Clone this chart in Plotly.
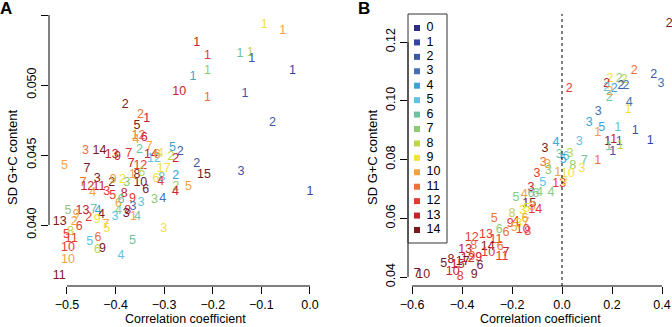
import plotly.graph_objects as go

# ---------------- data ----------------
group_colors = ["#2d2f7e", "#3446a0", "#3a58a8", "#4470b4", "#3ba3d6", "#5ec4e2",
                "#6cc3a0", "#8ccb73", "#bcd64a", "#f3e23a", "#f4a23f", "#ee7136",
                "#e53a32", "#c6212d", "#7b1a1d"]
legend_labels = [str(i) for i in range(15)]

# Panel A
a_x = [-0.094, -0.056, -0.233, -0.211, -0.144, -0.123, -0.120, -0.211, -0.241, -0.036,
       -0.269, -0.211, -0.134, -0.077, 0.000, -0.142, -0.218, -0.233, -0.380, -0.349,
       -0.336, -0.356, -0.353, -0.358, -0.341, -0.331, -0.351, -0.462, -0.433, -0.408,
       -0.396, -0.373, -0.327, -0.308, -0.283, -0.267, -0.286, -0.276, -0.321, -0.315,
       -0.505, -0.459, -0.368, -0.349, -0.356, -0.365, -0.346, -0.301, -0.317, -0.305,
       -0.307, -0.276, -0.276, -0.277, -0.250, -0.438, -0.467, -0.458, -0.434, -0.408,
       -0.405, -0.447, -0.418, -0.406, -0.386, -0.377, -0.349, -0.338, -0.382, -0.365,
       -0.394, -0.389, -0.364, -0.348, -0.394, -0.401, -0.375, -0.378, -0.363, -0.355,
       -0.320, -0.303, -0.301, -0.498, -0.468, -0.445, -0.436, -0.481, -0.455, -0.429,
       -0.438, -0.515, -0.475, -0.485, -0.420, -0.418, -0.501, -0.493, -0.491, -0.498,
       -0.498, -0.516, -0.453, -0.436, -0.437, -0.427, -0.389, -0.365]
a_y = [0.0543, 0.0539, 0.0530, 0.0521, 0.0522, 0.0523, 0.0519, 0.0510, 0.0506, 0.0510,
       0.0495, 0.0491, 0.0494, 0.0473, 0.0424, 0.0438, 0.0436, 0.0444, 0.0486, 0.0479,
       0.0476, 0.0471, 0.0464, 0.0461, 0.0462, 0.0456, 0.0454, 0.0453, 0.0453, 0.0450,
       0.0449, 0.0451, 0.0450, 0.0451, 0.0455, 0.0452, 0.0449, 0.0447, 0.0447, 0.0450,
       0.0442, 0.0440, 0.0444, 0.0442, 0.0436, 0.0436, 0.0437, 0.0440, 0.0433, 0.0434,
       0.0431, 0.0435, 0.0427, 0.0424, 0.0427, 0.0433, 0.0430, 0.0427, 0.0427, 0.0430,
       0.0432, 0.0423, 0.0424, 0.0421, 0.0432, 0.0430, 0.0430, 0.0425, 0.0422, 0.0419,
       0.0415, 0.0418, 0.0413, 0.0416, 0.0410, 0.0406, 0.0410, 0.0408, 0.0406, 0.0406,
       0.0418, 0.0419, 0.0397, 0.0410, 0.0410, 0.0411, 0.0410, 0.0407, 0.0405, 0.0407,
       0.0404, 0.0402, 0.0399, 0.0402, 0.0400, 0.0397, 0.0393, 0.0395, 0.0390, 0.0384,
       0.0375, 0.0364, 0.0388, 0.0391, 0.0382, 0.0383, 0.0378, 0.0389]
a_lab = ["1", "1", "1", "1", "1", "1", "1", "1", "1", "1",
         "10", "1", "1", "2", "1", "3", "15", "2", "2", "2",
         "1", "5", "12", "4", "6", "7", "2", "3", "14", "13",
         "9", "7", "14", "4", "5", "2", "2", "2", "12", "6",
         "5", "7", "7", "12", "8", "1", "6", "17", "6", "8",
         "4", "2", "2", "4", "5", "3", "7", "12", "11", "2",
         "9", "4", "3", "5", "2", "3", "10", "6", "8", "9",
         "6", "6", "3", "3", "4", "3", "8", "3", "1", "4",
         "3", "4", "3", "5", "13", "7", "4", "9", "2", "4",
         "9", "13", "6", "2", "7", "5", "5", "8", "11", "10",
         "10", "11", "5", "6", "6", "9", "4", "5"]
a_grp = [9, 10, 13, 12, 6, 8, 2, 7, 4, 1,
         13, 11, 2, 2, 1, 2, 14, 2, 14, 11,
         13, 14, 11, 10, 13, 10, 6, 11, 14, 13,
         13, 12, 13, 9, 4, 2, 8, 13, 5, 10,
         10, 14, 13, 12, 14, 10, 8, 9, 9, 6,
         12, 4, 7, 13, 10, 14, 11, 13, 13, 14,
         10, 10, 12, 12, 9, 7, 14, 14, 13, 12,
         10, 6, 3, 5, 7, 5, 13, 14, 10, 6,
         7, 3, 9, 7, 13, 6, 4, 10, 12, 14,
         9, 14, 12, 10, 10, 9, 12, 8, 12, 12,
         10, 14, 5, 11, 8, 14, 5, 6]

# Panel B
b_x = [0.429, 0.289, 0.367, 0.396, 0.029, 0.192, 0.179, 0.229, 0.249, 0.236,
       0.256, 0.209, 0.179, 0.192, 0.189, 0.269, 0.265, 0.145, 0.109, 0.159,
       0.143, 0.223, 0.293, 0.353, 0.183, 0.207, 0.229, 0.187, 0.203, 0.233,
       0.069, 0.143, 0.089, 0.043, 0.080, 0.032, -0.011, 0.016, 0.005, -0.024,
       -0.068, -0.075, -0.057, -0.055, -0.017, 0.023, -0.100, -0.077, -0.011, 0.008,
       -0.124, -0.184, -0.151, -0.124, -0.104, -0.090, -0.044, -0.131, -0.107, -0.119,
       -0.200, -0.157, -0.141, -0.271, -0.148, -0.144, -0.207, -0.184, -0.191, -0.173,
       -0.157, -0.137, -0.251, -0.224, -0.361, -0.304, -0.264, -0.297, -0.247, -0.387,
       -0.353, -0.295, -0.224, -0.240, -0.360, -0.377, -0.333, -0.473, -0.444, -0.397,
       -0.417, -0.437, -0.407, -0.328, -0.351, -0.580, -0.555]
b_y = [0.1261, 0.1102, 0.1088, 0.1057, 0.1039, 0.1073, 0.1059, 0.1074, 0.1070, 0.1050,
       0.1050, 0.1042, 0.1045, 0.1031, 0.1011, 0.0993, 0.0968, 0.0963, 0.0925, 0.0906,
       0.0891, 0.0908, 0.0897, 0.0862, 0.0860, 0.0868, 0.0860, 0.0843, 0.0826, 0.0847,
       0.0860, 0.0794, 0.0795, 0.0778, 0.0769, 0.0818, 0.0815, 0.0809, 0.0800, 0.0855,
       0.0835, 0.0789, 0.0781, 0.0760, 0.0755, 0.0752, 0.0750, 0.0720, 0.0718, 0.0725,
       0.0703, 0.0669, 0.0678, 0.0682, 0.0684, 0.0686, 0.0686, 0.0648, 0.0627, 0.0640,
       0.0616, 0.0625, 0.0633, 0.0597, 0.0599, 0.0585, 0.0580, 0.0588, 0.0566, 0.0581,
       0.0561, 0.0553, 0.0561, 0.0551, 0.0533, 0.0542, 0.0527, 0.0502, 0.0502, 0.0493,
       0.0505, 0.0483, 0.0483, 0.0470, 0.0468, 0.0463, 0.0465, 0.0445, 0.0459, 0.0451,
       0.0442, 0.0417, 0.0400, 0.0438, 0.0408, 0.0409, 0.0406]
b_lab = ["2", "2", "2", "3", "2", "2", "2", "2", "2", "2",
         "2", "2", "2", "2", "2", "4", "1", "3", "3", "5",
         "1", "1", "1", "1", "1", "1", "1", "1", "1", "1",
         "3", "1", "7", "8", "3", "3", "3", "6", "5", "4",
         "3", "3", "3", "3", "1", "10", "3", "5", "13", "9",
         "3", "5", "4", "6", "6", "4", "4", "15", "14", "3",
         "8", "3", "5", "5", "6", "7", "9", "4", "5", "3",
         "10", "8", "6", "6", "12", "13", "11", "14", "6", "13",
         "8", "10", "7", "11", "9", "12", "9", "5", "8", "17",
         "15", "10", "8", "6", "9", "7", "10"]
b_grp = [14, 11, 2, 3, 12, 9, 13, 7, 8, 2,
         3, 4, 5, 10, 6, 3, 9, 3, 4, 4,
         10, 5, 2, 1, 14, 13, 2, 6, 2, 8,
         5, 11, 6, 7, 9, 8, 6, 5, 4, 4,
         14, 11, 10, 7, 10, 9, 12, 5, 12, 9,
         13, 7, 10, 6, 7, 7, 7, 14, 12, 10,
         8, 9, 9, 11, 10, 10, 12, 12, 10, 9,
         12, 12, 7, 11, 12, 12, 12, 14, 11, 13,
         11, 12, 13, 12, 11, 13, 13, 14, 14, 14,
         13, 13, 12, 14, 14, 14, 14]

a_xticks = [-0.5, -0.4, -0.3, -0.2, -0.1, 0.0]
a_xtext = ["\u22120.5", "\u22120.4", "\u22120.3", "\u22120.2", "\u22120.1", "0.0"]
a_yticks = [0.040, 0.045, 0.050, 0.055]
a_ytext = ["0.040", "0.045", "0.050", "0.055"]
b_xticks = [-0.6, -0.4, -0.2, 0.0, 0.2, 0.4]
b_xtext = ["\u22120.6", "\u22120.4", "\u22120.2", "0.0", "0.2", "0.4"]
b_yticks = [0.04, 0.06, 0.08, 0.10, 0.12]
b_ytext = ["0.04", "0.06", "0.08", "0.10", "0.12"]

FONT = "Liberation Sans, Arial, Helvetica, sans-serif"
W, H = 672, 327

def px_x(p):
    return p / W

def px_y(p):
    return (H - p) / H

fig = go.Figure()

fig.add_trace(go.Scatter(x=a_x, y=a_y, mode="text", text=a_lab,
                         textfont=dict(family=FONT, size=12.5, color=[group_colors[g] for g in a_grp]),
                         xaxis="x", yaxis="y", showlegend=False, cliponaxis=False, hoverinfo="skip"))
fig.add_trace(go.Scatter(x=b_x, y=b_y, mode="text", text=b_lab,
                         textfont=dict(family=FONT, size=12.5, color=[group_colors[g] for g in b_grp]),
                         xaxis="x2", yaxis="y2", showlegend=False, cliponaxis=False, hoverinfo="skip"))

# custom legend (category index on its own axis)
leg_idx = list(range(len(legend_labels)))
fig.add_trace(go.Scatter(x=[0] * len(leg_idx), y=leg_idx, mode="markers",
                         marker=dict(symbol="square", size=6, color=group_colors, line=dict(width=0)),
                         xaxis="x3", yaxis="y3", showlegend=False, cliponaxis=False, hoverinfo="skip"))
fig.add_trace(go.Scatter(x=[9.5] * len(leg_idx), y=leg_idx, mode="text", text=legend_labels,
                         textposition="middle right",
                         textfont=dict(family=FONT, size=12.5, color="black"),
                         xaxis="x3", yaxis="y3", showlegend=False, cliponaxis=False, hoverinfo="skip"))

tick_common = dict(ticks="outside", ticklen=7, tickwidth=1, tickcolor="black",
                   showgrid=False, zeroline=False, showline=False, automargin=False,
                   tickfont=dict(family=FONT, size=12.5, color="black"))

ydom = [px_y(286), px_y(5)]
fig.update_layout(
    width=W, height=H, margin=dict(l=0, r=0, t=0, b=0, autoexpand=False),
    paper_bgcolor="white", plot_bgcolor="white",
    xaxis=dict(domain=[px_x(49), px_x(320)], range=[-0.537, 0.0206], anchor="y",
               tickmode="array", tickvals=a_xticks, ticktext=a_xtext, **tick_common),
    yaxis=dict(domain=ydom, range=[0.035643, 0.055714], anchor="x",
               tickmode="array", tickvals=a_yticks, ticktext=a_ytext, tickangle=-90, **tick_common),
    xaxis2=dict(domain=[px_x(408), 1.0], range=[-0.616, 0.44], anchor="y2",
                tickmode="array", tickvals=b_xticks, ticktext=b_xtext, **tick_common),
    yaxis2=dict(domain=ydom, range=[0.03694, 0.1326], anchor="x2",
                tickmode="array", tickvals=b_yticks, ticktext=b_ytext, tickangle=-90, **tick_common),
    xaxis3=dict(domain=[px_x(408), px_x(447)], range=[-9, 30], anchor="y3", visible=False,
                fixedrange=True, automargin=False),
    yaxis3=dict(domain=[px_y(243), px_y(14)], range=[14.9, -0.97], anchor="x3", visible=False,
                fixedrange=True, automargin=False),
    showlegend=False,
)

line_style = dict(color="black", width=1)
shapes = [
    dict(type="line", xref="x", yref="y domain", x0=a_xticks[0], x1=a_xticks[-1], y0=0, y1=0, line=line_style),
    dict(type="line", xref="x domain", yref="y", x0=0, x1=0, y0=a_yticks[0], y1=a_yticks[-1], line=line_style),
    dict(type="line", xref="x2", yref="y2 domain", x0=b_xticks[0], x1=b_xticks[-1], y0=0, y1=0, line=line_style),
    dict(type="line", xref="x2 domain", yref="y2", x0=0, x1=0, y0=b_yticks[0], y1=b_yticks[-1], line=line_style),
    dict(type="line", xref="x2", yref="y2 domain", x0=0, x1=0, y0=0, y1=0.968,
         line=dict(color="black", width=1, dash="3px,3px")),
    dict(type="rect", xref="x3 domain", yref="y3 domain", x0=0, x1=1, y0=0, y1=1,
         line=dict(color="#333333", width=1), fillcolor="rgba(0,0,0,0)"),
]
fig.update_layout(shapes=shapes)

annotations = []
for txt, xc in (("<b>A</b>", 6), ("<b>B</b>", 364)):
    annotations.append(dict(text=txt, x=px_x(xc), y=px_y(9), xref="paper", yref="paper",
                            xanchor="center", yanchor="middle", showarrow=False,
                            font=dict(family=FONT, size=17, color="black")))
for xc in (185, 540):
    annotations.append(dict(text="Correlation coefficient", x=px_x(xc), y=px_y(319), xref="paper", yref="paper",
                            xanchor="center", yanchor="middle", showarrow=False,
                            font=dict(family=FONT, size=12.5, color="black")))
for xc in (13, 373):
    annotations.append(dict(text="SD G+C content", x=px_x(xc), y=px_y(158), xref="paper", yref="paper",
                            xanchor="center", yanchor="middle", showarrow=False, textangle=-90,
                            font=dict(family=FONT, size=13, color="black")))
fig.update_layout(annotations=annotations)

fig.write_html("out.html", config={"displayModeBar": False},
               post_script="document.body.style.margin='0px';document.body.style.padding='0px';")
